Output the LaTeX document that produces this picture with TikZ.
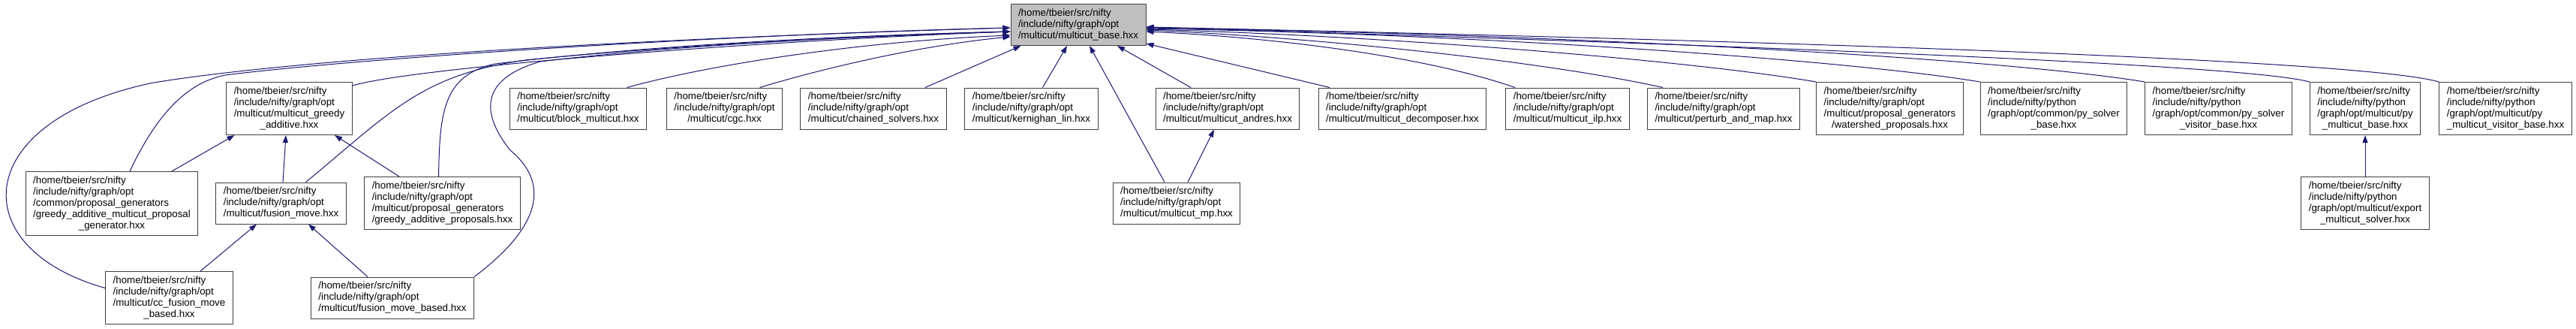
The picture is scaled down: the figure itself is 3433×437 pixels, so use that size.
\documentclass[tikz,border=0pt]{standalone}
\usepackage{fontspec}
\setmainfont{Liberation Sans}
\usetikzlibrary{arrows.meta}
\definecolor{edgeblue}{HTML}{191970}
\definecolor{boxgray}{HTML}{404040}
\definecolor{basefill}{HTML}{BFBFBF}
\newcommand{\hpath}[2]{\begin{tabular}{@{}l@{}}#1\\\multicolumn{1}{@{}c@{}}{#2}\end{tabular}}
\newcommand{\hfont}{\fontsize{13.33pt}{15pt}\selectfont}
\begin{document}
\begin{tikzpicture}[x=1pt, y=-1pt,
  box/.style={draw=boxgray, fill=white, line width=1pt, inner xsep=10pt, inner ysep=5pt, font=\hfont},
  dep/.style={draw=edgeblue, line width=1pt, -{Triangle[length=10pt,width=7pt]}}]
\useasboundingbox (0,0) rectangle (3433,437);
\node[box, fill=basefill] (base) at (1437,33) {\hpath{/home/tbeier/src/nifty\\/include/nifty/graph/opt}{/multicut/multicut\_base.hxx}};
\node[box] (ga) at (385.5,144.5) {\hpath{/home/tbeier/src/nifty\\/include/nifty/graph/opt\\/multicut/multicut\_greedy}{\_additive.hxx}};
\node[box] (block) at (770.5,144.5) {\hpath{/home/tbeier/src/nifty\\/include/nifty/graph/opt}{/multicut/block\_multicut.hxx}};
\node[box] (cgc) at (965.5,144.5) {\hpath{/home/tbeier/src/nifty\\/include/nifty/graph/opt}{/multicut/cgc.hxx}};
\node[box] (chained) at (1164,144.5) {\hpath{/home/tbeier/src/nifty\\/include/nifty/graph/opt}{/multicut/chained\_solvers.hxx}};
\node[box] (kl) at (1374.5,144.5) {\hpath{/home/tbeier/src/nifty\\/include/nifty/graph/opt}{/multicut/kernighan\_lin.hxx}};
\node[box] (andres) at (1636,144.5) {\hpath{/home/tbeier/src/nifty\\/include/nifty/graph/opt}{/multicut/multicut\_andres.hxx}};
\node[box] (decomp) at (1869,144.5) {\hpath{/home/tbeier/src/nifty\\/include/nifty/graph/opt}{/multicut/multicut\_decomposer.hxx}};
\node[box] (ilp) at (2089,144.5) {\hpath{/home/tbeier/src/nifty\\/include/nifty/graph/opt}{/multicut/multicut\_ilp.hxx}};
\node[box] (pam) at (2297,144.5) {\hpath{/home/tbeier/src/nifty\\/include/nifty/graph/opt}{/multicut/perturb\_and\_map.hxx}};
\node[box] (ws) at (2518.5,144.5) {\hpath{/home/tbeier/src/nifty\\/include/nifty/graph/opt\\/multicut/proposal\_generators}{/watershed\_proposals.hxx}};
\node[box] (pysb) at (2737,144.5) {\hpath{/home/tbeier/src/nifty\\/include/nifty/python\\/graph/opt/common/py\_solver}{\_base.hxx}};
\node[box] (pysvb) at (2956.5,144.5) {\hpath{/home/tbeier/src/nifty\\/include/nifty/python\\/graph/opt/common/py\_solver}{\_visitor\_base.hxx}};
\node[box] (pmb) at (3152,144.5) {\hpath{/home/tbeier/src/nifty\\/include/nifty/python\\/graph/opt/multicut/py}{\_multicut\_base.hxx}};
\node[box] (pmvb) at (3339,144.5) {\hpath{/home/tbeier/src/nifty\\/include/nifty/python\\/graph/opt/multicut/py}{\_multicut\_visitor\_base.hxx}};
\node[box] (gamp) at (149,271) {\hpath{/home/tbeier/src/nifty\\/include/nifty/graph/opt\\/common/proposal\_generators\\/greedy\_additive\_multicut\_proposal}{\_generator.hxx}};
\node[box] (fm) at (374.5,270.5) {\hpath{/home/tbeier/src/nifty\\/include/nifty/graph/opt}{/multicut/fusion\_move.hxx}};
\node[box] (gap) at (589.5,270.5) {\hpath{/home/tbeier/src/nifty\\/include/nifty/graph/opt\\/multicut/proposal\_generators}{/greedy\_additive\_proposals.hxx}};
\node[box] (mp) at (1568,270.5) {\hpath{/home/tbeier/src/nifty\\/include/nifty/graph/opt}{/multicut/multicut\_mp.hxx}};
\node[box] (export) at (3152,270.5) {\hpath{/home/tbeier/src/nifty\\/include/nifty/python\\/graph/opt/multicut/export}{\_multicut\_solver.hxx}};
\node[box] (ccfmb) at (225.5,396.5) {\hpath{/home/tbeier/src/nifty\\/include/nifty/graph/opt\\/multicut/cc\_fusion\_move}{\_based.hxx}};
\node[box] (fmb) at (523,396.5) {\hpath{/home/tbeier/src/nifty\\/include/nifty/graph/opt}{/multicut/fusion\_move\_based.hxx}};
\draw[dep] ([yshift=13pt]ccfmb.west) .. controls (-50,330) and (-40,160) .. (205,110) .. controls (420,75) and (900,50) .. ([yshift=-4pt]base.west);
\draw[dep] ([xshift=24pt]gamp.north) .. controls (210,150) and (250,110) .. (300,100) .. controls (500,75) and (1000,45) .. ([yshift=-4pt]base.west);
\draw[dep] ([yshift=-5pt]ga.north east) .. controls (550,90) and (1000,55) .. ([yshift=-9pt]base.west);
\draw[dep] ([xshift=33pt]fm.north) .. controls (520,150) and (560,100) .. (700,80) .. controls (900,60) and (1150,48) .. ([yshift=-9pt]base.west);
\draw[dep] ([xshift=-5pt]gap.north) .. controls (586,150) and (590,100) .. (660,85) .. controls (850,62) and (1100,48) .. ([yshift=-9pt]base.west);
\draw[dep] (fmb.north east) .. controls (710,310) and (740,250) .. (680,200) .. controls (640,150) and (640,105) .. (720,82) .. controls (900,60) and (1150,48) .. ([yshift=-9pt]base.west);
\draw[dep] ([xshift=65pt]block.north) .. controls (950,85) and (1150,55) .. ([yshift=-14pt]base.west);
\draw[dep] ([xshift=47pt]cgc.north) .. controls (1100,90) and (1230,60) .. ([yshift=-16pt]base.west);
\draw[dep] ([xshift=69pt]chained.north) -- ([xshift=14pt]base.south west);
\draw[dep] ([xshift=15pt]kl.north) -- ([xshift=-15pt]base.south);
\draw[dep] ([xshift=-16pt]mp.north) -- ([xshift=15pt]base.south);
\draw[dep] ([xshift=-49pt]andres.north) -- ([xshift=52pt]base.south);
\draw[dep] ([xshift=-97pt]decomp.north) -- ([yshift=3pt]base.south east);
\draw[dep] ([xshift=-70pt]ilp.north) .. controls (1900,75) and (1700,50) .. ([yshift=-9pt]base.east);
\draw[dep] ([xshift=-81pt]pam.north) .. controls (2050,80) and (1750,50) .. ([yshift=-7pt]base.east);
\draw[dep] (ws.north west) .. controls (2250,80) and (1850,48) .. ([yshift=-6pt]base.east);
\draw[dep] (pysb.north west) .. controls (2450,78) and (1950,45) .. ([yshift=-5pt]base.east);
\draw[dep] (pysvb.north west) .. controls (2650,75) and (2050,45) .. ([yshift=-4pt]base.east);
\draw[dep] (pmb.north west) .. controls (2990,85) and (2300,60) .. ([yshift=-3pt]base.east);
\draw[dep] (pmvb.north west) .. controls (3150,80) and (2400,55) .. ([yshift=-3pt]base.east);
\draw[dep] ([xshift=80pt]gamp.north) -- ([xshift=-73pt]ga.south);
\draw[dep] ([xshift=2.5pt]fm.north) -- ([xshift=-4.5pt]ga.south);
\draw[dep] ([xshift=-57.5pt]gap.north) -- ([xshift=60.5pt]ga.south);
\draw[dep] ([xshift=41.5pt]ccfmb.north) -- ([xshift=-32.5pt]fm.south);
\draw[dep] ([xshift=-33pt]fmb.north) -- ([xshift=36.5pt]fm.south);
\draw[dep] ([xshift=15pt]mp.north) -- ([xshift=-18pt]andres.south);
\draw[dep] (export.north) -- (pmb.south);
\end{tikzpicture}
\end{document}
